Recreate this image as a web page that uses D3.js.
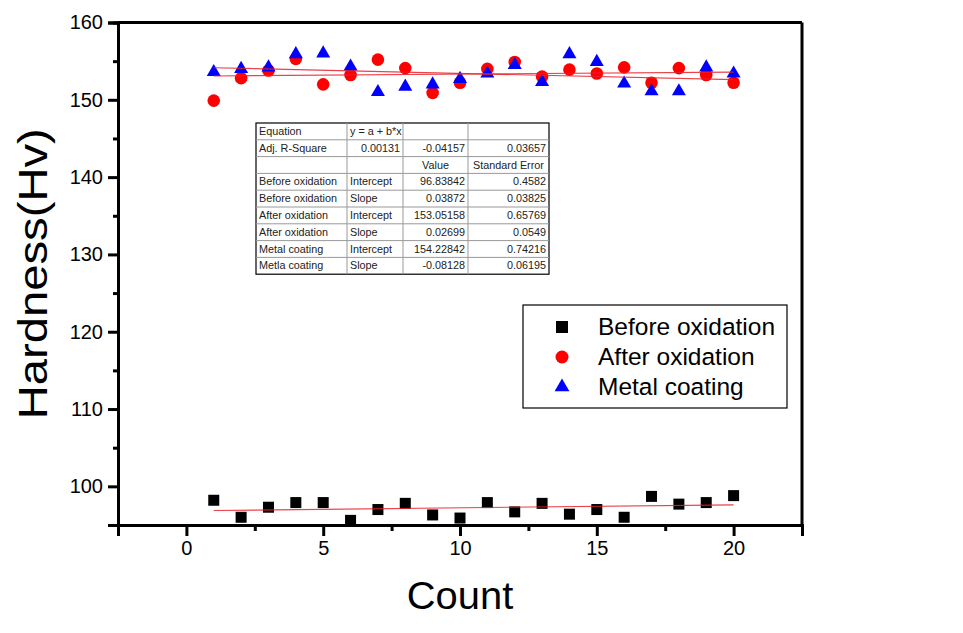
<!DOCTYPE html>
<html>
<head>
<meta charset="utf-8">
<script src="https://cdn.jsdelivr.net/npm/d3@7"></script>
<style>
  html, body { margin: 0; padding: 0; background: #fff; }
  svg { display: block; font-family: "Liberation Sans", Arial, sans-serif; }
</style>
</head>
<body>
<svg id="chart" width="963" height="633"></svg>
<script>
// ---------- DATA ----------
const counts = d3.range(1, 21);
const beforeOxidation = [98.2, 96.0, 97.3, 97.9, 97.9, 95.6, 97.0, 97.8, 96.3, 95.9,
                         97.9, 96.7, 97.8, 96.4, 97.0, 96.0, 98.7, 97.7, 97.9, 98.8];
const afterOxidation  = [149.9, 152.8, 153.8, 155.3, 152.0, 153.2, 155.2, 154.1, 150.9, 152.2,
                         154.0, 154.9, 153.0, 153.9, 153.4, 154.2, 152.2, 154.1, 153.2, 152.2];
const metalCoating    = [153.6, 154.0, 154.2, 155.9, 156.0, 154.3, 151.0, 151.7, 152.0, 152.7,
                         153.4, 154.5, 152.3, 155.9, 154.9, 152.1, 151.1, 151.1, 154.2, 153.4];
const seriesNames = ["Before oxidation", "After oxidation", "Metal coating"];
const intercepts = [96.83842, 153.05158, 154.22842];
const slopes     = [0.03872, 0.02699, -0.08128];
const xTicks = [0, 5, 10, 15, 20];
const xMinorTicks = [-2.5, 2.5, 7.5, 12.5, 17.5, 22.5];
const yTicks = [100, 110, 120, 130, 140, 150, 160];
const yMinorTicks = [95, 105, 115, 125, 135, 145, 155];
const tableRows = [
  ["Equation", "y = a + b*x", "", ""],
  ["Adj. R-Square", "0.00131", "-0.04157", "0.03657"],
  ["", "", "Value", "Standard Error"],
  ["Before oxidation", "Intercept", "96.83842", "0.4582"],
  ["Before oxidation", "Slope", "0.03872", "0.03825"],
  ["After oxidation", "Intercept", "153.05158", "0.65769"],
  ["After oxidation", "Slope", "0.02699", "0.0549"],
  ["Metal coating", "Intercept", "154.22842", "0.74216"],
  ["Metla coating", "Slope", "-0.08128", "0.06195"]
];

// ---------- LAYOUT ----------
const svg = d3.select("#chart");
const L = 118, R = 802, T = 22.5, B = 525;
const x = d3.scaleLinear().domain([-2.5, 22.5]).range([L, R]);
const y = d3.scaleLinear().domain([95, 160]).range([B, T]);

// Box (top and right)
svg.append("line").attr("x1", L).attr("x2", R).attr("y1", T).attr("y2", T)
  .attr("stroke", "#000").attr("stroke-width", 3);
svg.append("line").attr("x1", R).attr("x2", R).attr("y1", T).attr("y2", B)
  .attr("stroke", "#000").attr("stroke-width", 3);

// Axes
const xAxis = d3.axisBottom(x).tickValues(xTicks).tickSize(11).tickPadding(5).tickFormat(d3.format("d"));
const xMinor = d3.axisBottom(x).tickValues(xMinorTicks).tickSize(6).tickFormat("");
const yAxis = d3.axisLeft(y).tickValues(yTicks).tickSize(10).tickPadding(5).tickFormat(d3.format("d"));
const yMinor = d3.axisLeft(y).tickValues(yMinorTicks).tickSize(5).tickFormat("");

function styleAxis(g) {
  g.select(".domain").attr("stroke", "#000").attr("stroke-width", 3);
  g.selectAll(".tick line").attr("stroke", "#000").attr("stroke-width", 3);
  g.selectAll(".tick text").attr("fill", "#000").style("font-size", "20px")
    .style("font-family", "'Liberation Sans', Arial, sans-serif");
}
svg.append("g").attr("transform", `translate(0,${B})`).call(xMinor).call(styleAxis);
svg.append("g").attr("transform", `translate(0,${B})`).call(xAxis).call(styleAxis);
svg.append("g").attr("transform", `translate(0,${B})`).selectAll(".tick text").attr("dy", "0.75em");
svg.append("g").attr("transform", `translate(${L},0)`).call(yMinor).call(styleAxis);
svg.append("g").attr("transform", `translate(${L},0)`).call(yAxis).call(styleAxis);

// Axis titles
svg.append("text").attr("transform", `translate(${(x(0) + x(20)) / 2},609) scale(1.05,1)`)
  .attr("text-anchor", "middle").style("font-size", "38px").text("Count");
svg.append("text").attr("transform", `translate(47,${(y(95)+y(160))/2}) rotate(-90) scale(1.18,1)`)
  .attr("text-anchor", "middle").style("font-size", "40px").text("Hardness(Hv)");

// ---------- MARKS ----------
const plot = svg.append("g");
const sq = 11;
plot.selectAll("rect.before").data(counts).enter().append("rect")
  .attr("x", (d, i) => x(d) - sq / 2).attr("y", (d, i) => y(beforeOxidation[i]) - sq / 2)
  .attr("width", sq).attr("height", sq).attr("fill", "#000");
plot.selectAll("circle.after").data(counts).enter().append("circle")
  .attr("cx", d => x(d)).attr("cy", (d, i) => y(afterOxidation[i])).attr("r", 6.3)
  .attr("fill", "#ff0000");
const tri = d3.symbol().type(d3.symbolTriangle).size(85);
plot.selectAll("path.metal").data(counts).enter().append("path")
  .attr("d", tri).attr("transform", (d, i) => `translate(${x(d)},${y(metalCoating[i])})`)
  .attr("fill", "#0000ff");

// Fit lines
intercepts.forEach((a, k) => {
  const b = slopes[k];
  svg.append("line")
    .attr("x1", x(1)).attr("y1", y(a + b * 1))
    .attr("x2", x(20)).attr("y2", y(a + b * 20))
    .attr("stroke", "#e8202a").attr("stroke-width", 1.2).attr("opacity", 0.85);
});

// ---------- TABLE ----------
const tbl = svg.append("g");
const colX = [256, 347, 403, 468, 549];
const tTop = 123, rowH = 16.8;
tbl.append("rect").attr("x", colX[0]).attr("y", tTop)
  .attr("width", colX[4] - colX[0]).attr("height", rowH * tableRows.length)
  .attr("fill", "#fff").attr("stroke", "#000").attr("stroke-width", 1.2);
for (let i = 1; i < tableRows.length; i++) {
  tbl.append("line").attr("x1", colX[0]).attr("x2", colX[4])
    .attr("y1", tTop + i * rowH).attr("y2", tTop + i * rowH)
    .attr("stroke", "#999").attr("stroke-width", 1);
}
for (let j = 1; j < 4; j++) {
  tbl.append("line").attr("x1", colX[j]).attr("x2", colX[j])
    .attr("y1", tTop).attr("y2", tTop + rowH * tableRows.length)
    .attr("stroke", "#999").attr("stroke-width", 1);
}
tableRows.forEach((row, i) => {
  row.forEach((cell, j) => {
    if (!cell) return;
    let tx, anchor;
    const isNum = /^-?[0-9.]+$/.test(cell);
    if (i === 2) { tx = (colX[j] + colX[j + 1]) / 2; anchor = "middle"; }
    else if (isNum) { tx = colX[j + 1] - 3; anchor = "end"; }
    else { tx = colX[j] + 3; anchor = "start"; }
    tbl.append("text").attr("x", tx).attr("y", tTop + i * rowH + 12)
      .attr("text-anchor", anchor).style("font-size", "10.8px").attr("fill", "#222").text(cell);
  });
});

// ---------- LEGEND ----------
const lg = svg.append("g");
lg.append("rect").attr("x", 523).attr("y", 305).attr("width", 264).attr("height", 103)
  .attr("fill", "#fff").attr("stroke", "#000").attr("stroke-width", 1.2);
const ly = [327, 357, 387];
lg.append("rect").attr("x", 562 - 6).attr("y", ly[0] - 6).attr("width", 12).attr("height", 12).attr("fill", "#000");
lg.append("circle").attr("cx", 562).attr("cy", ly[1]).attr("r", 6.5).attr("fill", "#ff0000");
lg.append("path").attr("d", d3.symbol().type(d3.symbolTriangle).size(95))
  .attr("transform", `translate(562,${ly[2]})`).attr("fill", "#0000ff");
seriesNames.forEach((n, i) => {
  lg.append("text").attr("x", 598).attr("y", ly[i] + 8).style("font-size", "24.5px").text(n);
});
</script>
</body>
</html>
